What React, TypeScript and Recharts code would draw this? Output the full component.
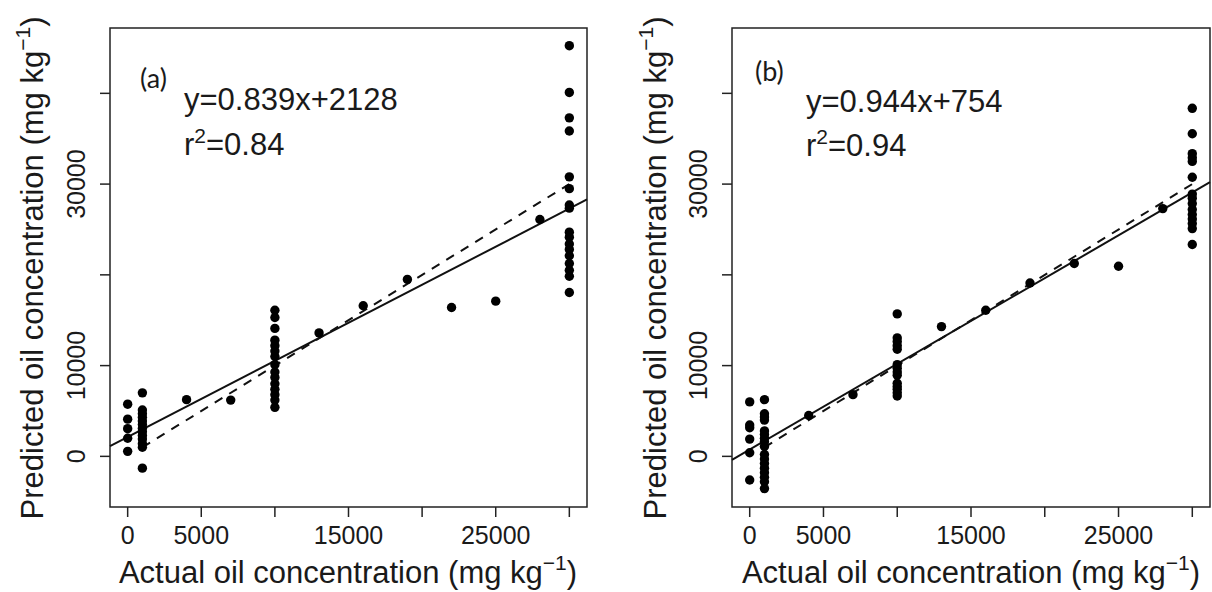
import { ScatterChart, Scatter, XAxis, YAxis, ReferenceLine, ReferenceArea } from "recharts";

// actual oil concentration levels (x)
const levels = [0, 1000, 4000, 7000, 10000, 13000, 16000, 19000, 22000, 25000, 28000, 30000];

// predicted values at each level, panel (a)
const predictedA = [
  [5750, 4100, 3050, 2000, 550],
  [7000, 5100, 4700, 4300, 3900, 3500, 3100, 2700, 2300, 1900, 1400, 1000, -1300],
  [6250],
  [6200],
  [16100, 15300, 14100, 12800, 12200, 11600, 11000, 10100, 9300, 8700, 8000, 7400, 6800, 6200, 5400],
  [13600],
  [16600],
  [19500],
  [16400],
  [17100],
  [26100],
  [45250, 40100, 37300, 35850, 30800, 29500, 27700, 27350, 24700, 24150, 23400, 22800, 22100, 21250, 20500, 19850, 18050],
];

// predicted values at each level, panel (b)
const predictedB = [
  [6000, 3450, 3150, 1900, 400, -2600],
  [6250, 4700, 4350, 4000, 2800, 2400, 2000, 1600, 1100, 200, -300, -800, -1300, -1800, -2300, -2800, -3550],
  [4500],
  [6800],
  [15700, 13050, 12650, 12200, 11800, 10100, 9700, 9300, 8950, 8050, 7700, 7400, 7000, 6650],
  [14300],
  [16100],
  [19100],
  [21250],
  [20950],
  [27300],
  [38350, 35550, 33350, 32900, 32500, 30750, 28900, 28450, 27850, 27200, 26650, 26150, 25650, 25100, 23350],
];

const slopeA = 0.839;
const interceptA = 2128;
const slopeB = 0.944;
const interceptB = 754;

const xTicks = [0, 5000, 10000, 15000, 20000, 25000, 30000];
const xLabels = [0, 5000, 15000, 25000];
const yTicks = [0, 10000, 20000, 30000, 40000];
const yLabels = [0, 10000, 30000];

const xDomain = [-1200, 31200];
const yDomain = [-5580, 47200];
const oneToOne = [1000, 30000];

const FONT = "'Liberation Sans', Arial, sans-serif";
const INK = "#1a1a1a";

const toPoints = (pred: number[][]) =>
  levels.flatMap((x, i) => pred[i].map((y) => ({ x, y })));

const dataA = toPoints(predictedA);
const dataB = toPoints(predictedB);

const Dot = (props: any) => <circle cx={props.cx} cy={props.cy} r={4.7} fill="#000" />;

const XTick = (props: any) => {
  const { x, y, payload } = props;
  if (!xLabels.includes(payload.value)) return <g />;
  return (
    <text x={x} y={y + 25} textAnchor="middle" fontSize={25} fontFamily={FONT} fill={INK}>
      {payload.value}
    </text>
  );
};

const YTick = (props: any) => {
  const { x, y, payload } = props;
  if (!yLabels.includes(payload.value)) return <g />;
  const bx = x - 13;
  return (
    <text
      x={bx}
      y={y}
      transform={`rotate(-90, ${bx}, ${y})`}
      textAnchor="middle"
      fontSize={25}
      fontFamily={FONT}
      fill={INK}
    >
      {payload.value}
    </text>
  );
};

type PanelProps = {
  data: { x: number; y: number }[];
  slope: number;
  intercept: number;
  left: number;
  axisWidth: number;
  rightMargin: number;
};

const Panel = ({ data, slope, intercept, left, axisWidth, rightMargin }: PanelProps) => {
  const fit = xDomain.map((x) => ({ x, y: slope * x + intercept }));
  const diag = oneToOne.map((v) => ({ x: v, y: v }));
  return (
    <div style={{ position: "absolute", left, top: 0 }}>
      <ScatterChart width={606} height={592} margin={{ top: 28, right: rightMargin, bottom: 0, left: 0 }}>
        <XAxis
          type="number"
          dataKey="x"
          domain={xDomain}
          ticks={xTicks}
          interval={0}
          tickSize={10}
          axisLine={false}
          tickLine={{ stroke: "#222", strokeWidth: 1.5 }}
          tick={XTick}
          height={85}
          allowDataOverflow
        />
        <YAxis
          type="number"
          dataKey="y"
          domain={yDomain}
          ticks={yTicks}
          interval={0}
          tickSize={10}
          axisLine={false}
          tickLine={{ stroke: "#222", strokeWidth: 1.5 }}
          tick={YTick}
          width={axisWidth}
          allowDataOverflow
        />
        <ReferenceArea
          x1={xDomain[0]}
          x2={xDomain[1]}
          y1={yDomain[0]}
          y2={yDomain[1]}
          fill="none"
          stroke="#222"
          strokeWidth={1.5}
          ifOverflow="visible"
        />
        <Scatter data={data} shape={Dot} isAnimationActive={false} />
        <ReferenceLine segment={fit} stroke="#111" strokeWidth={2} ifOverflow="visible" />
        <ReferenceLine segment={diag} stroke="#111" strokeWidth={2} strokeDasharray="9 8" ifOverflow="visible" />
      </ScatterChart>
    </div>
  );
};

const Sup = ({ children, size, dy }: { children: string; size: number; dy: number }) => (
  <tspan fontSize={size} dy={-dy}>{children}</tspan>
);

const Titles = () => (
  <svg width={1212} height={592} style={{ position: "absolute", left: 0, top: 0, pointerEvents: "none" }}>
    <g fontFamily={FONT} fill={INK} fontSize={31}>
      {/* panel (a) axis titles */}
      <text x={348} y={583} textAnchor="middle">
        Actual oil concentration (mg kg
        <Sup size={21} dy={13}>−1</Sup>
        <tspan dy={13}>)</tspan>
      </text>
      <text x={43} y={268} textAnchor="middle" transform="rotate(-90, 43, 268)">
        Predicted oil concentration (mg kg
        <Sup size={21} dy={13}>−1</Sup>
        <tspan dy={13}>)</tspan>
      </text>
      {/* panel (b) axis titles */}
      <text x={971} y={583} textAnchor="middle">
        Actual oil concentration (mg kg
        <Sup size={21} dy={13}>−1</Sup>
        <tspan dy={13}>)</tspan>
      </text>
      <text x={666} y={268} textAnchor="middle" transform="rotate(-90, 666, 268)">
        Predicted oil concentration (mg kg
        <Sup size={21} dy={13}>−1</Sup>
        <tspan dy={13}>)</tspan>
      </text>

      {/* annotations */}
      <text x={184} y={110}>y={slopeA}x+{interceptA}</text>
      <text x={184} y={155}>
        r<Sup size={21} dy={12}>2</Sup>
        <tspan dy={12}>=0.84</tspan>
      </text>
      <text x={806} y={112}>y={slopeB}x+{interceptB}</text>
      <text x={806} y={156}>
        r<Sup size={21} dy={12}>2</Sup>
        <tspan dy={12}>=0.94</tspan>
      </text>
    </g>
    <g fontFamily="Lato, 'Noto Sans', sans-serif" fill={INK} fontSize={27}>
      <text x={140} y={88}>(a)</text>
      <text x={755} y={81}>(b)</text>
    </g>
  </svg>
);

export default function App() {
  return (
    <div style={{ position: "absolute", left: 0, top: 0, width: 1212, height: 592, background: "#fff" }}>
      <Panel data={dataA} slope={slopeA} intercept={interceptA} left={0} axisWidth={110} rightMargin={19} />
      <Panel data={dataB} slope={slopeB} intercept={interceptB} left={606} axisWidth={126} rightMargin={2} />
      <Titles />
    </div>
  );
}
